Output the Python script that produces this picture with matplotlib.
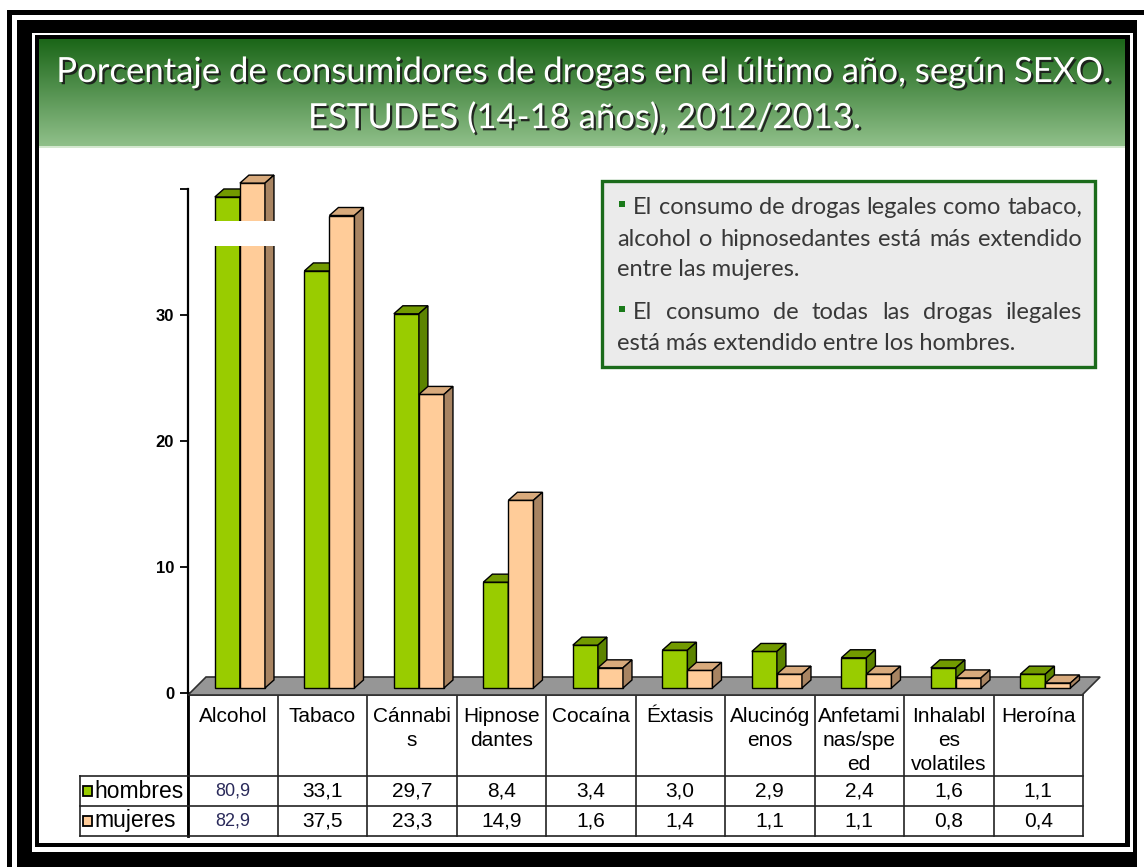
import numpy as np
import matplotlib
matplotlib.use("Agg")
import matplotlib.pyplot as plt
from matplotlib.patches import Rectangle, Polygon
import matplotlib.patheffects as pe

# ---------------- data ----------------
categories = ["Alcohol", "Tabaco", "Cánnabis", "Hipnosedantes", "Cocaína",
              "Éxtasis", "Alucinógenos", "Anfetaminas/speed",
              "Inhalables volatiles", "Heroína"]
category_labels = ["Alcohol", "Tabaco", "Cánnabi\ns", "Hipnose\ndantes", "Cocaína",
                   "Éxtasis", "Alucinóg\nenos", "Anfetami\nnas/spe\ned",
                   "Inhalabl\nes\nvolatiles", "Heroína"]
series_names = ["hombres", "mujeres"]
hombres = [80.9, 33.1, 29.7, 8.4, 3.4, 3.0, 2.9, 2.4, 1.6, 1.1]
mujeres = [82.9, 37.5, 23.3, 14.9, 1.6, 1.4, 1.1, 1.1, 0.8, 0.4]
y_ticks = [0, 10, 20, 30, 40]
y_tick_labels = ["0", "10", "20", "30", ""]

title_lines = ["Porcentaje de consumidores de drogas en el último año, según SEXO.",
               "ESTUDES (14-18 años), 2012/2013."]
note_paragraphs = [
    ["El consumo de drogas legales como tabaco,",
     "alcohol o hipnosedantes está más extendido",
     "entre las mujeres."],
    ["El consumo de todas las drogas ilegales",
     "está más extendido entre los hombres."],
]

# ---------------- style ----------------
W, H = 1144, 867
GREEN = ["#99cc00", "#729a00", "#5c8400"]     # front, top, side
PEACH = ["#ffcc99", "#d8aa7c", "#a88462"]
colors = [GREEN, PEACH]

fig = plt.figure(figsize=(W / 100, H / 100), dpi=100)
fig.patch.set_facecolor("white")

# canvas axes in pixel coords (y downwards)
cv = fig.add_axes([0, 0, 1, 1])
cv.set_xlim(0, W)
cv.set_ylim(H, 0)
cv.axis("off")


def rect(x0, y0, x1, y1, color="black", z=1, **kw):
    cv.add_patch(Rectangle((x0, y0), x1 - x0, y1 - y0, facecolor=color,
                           edgecolor="none", zorder=z, **kw))


# frames
rect(7, 10, W, 15)
rect(7, 10, 12, H)
rect(17, 20, 1137, 33)
rect(17, 20, 32, H)
rect(1133, 20, 1137, H)
rect(17, 852, 1137, H)
rect(35, 35, 1130, 39)
rect(35, 35, 39, 847)
rect(1125, 35, 1130, 847)
rect(35, 843, 1130, 847)

# header gradient
top_c = np.array([0x1b, 0x66, 0x18]) / 255
bot_c = np.array([0x90, 0xc0, 0x8a]) / 255
t = np.linspace(0, 1, 200)[:, None, None]
grad = top_c[None, None, :] * (1 - t) + bot_c[None, None, :] * t
cv.imshow(grad, extent=(39, 1125, 146, 39), origin="upper", aspect="auto", zorder=1)
rect(39, 146, 1125, 148, color="#d5e8d0", z=1)

title_fx = [pe.withSimplePatchShadow(offset=(1.6, -1.6), shadow_rgbFace="#1a1a1a", alpha=0.9)]
for i, line in enumerate(title_lines):
    cv.text(585, 72 + i * 46, line, ha="center", va="center", color="white",
            fontsize=25, family="Lato", zorder=3, path_effects=title_fx)

# ---------------- chart axes ----------------
PX_X0, PX_X1 = 188, 1083
PX_Y0 = 693          # value 0
PXU = 12.6           # pixels per unit
AX_TOP, AX_BOT = 175, 697
Y_MAX = 40
ax = fig.add_axes([PX_X0 / W, 1 - AX_BOT / H, (PX_X1 - PX_X0) / W, (AX_BOT - AX_TOP) / H])
ax.set_facecolor("none")
ax.set_xlim(0, len(categories))
ax.set_ylim((PX_Y0 - AX_BOT) / PXU, (PX_Y0 - AX_TOP) / PXU)
for s in ["top", "right", "bottom"]:
    ax.spines[s].set_visible(False)
ax.spines["left"].set_bounds(0, Y_MAX)
ax.spines["left"].set_linewidth(1.6)
ax.set_xticks([])
ax.set_yticks(y_ticks)
ax.set_yticklabels(y_tick_labels, fontsize=12, fontweight="bold", family="Liberation Sans")
ax.tick_params(axis="y", length=6, width=1.3, pad=4)

# floor
dxf, dyf = 18 / 89.5, 18 / PXU
floor = Polygon([(0, -2 / PXU), (len(categories) - 0.01, -2 / PXU),
                 (len(categories) - 0.01 + dxf, -2 / PXU + dyf), (dxf, -2 / PXU + dyf)],
                closed=True, facecolor="#969696", edgecolor="#303030", lw=1.2,
                clip_on=False, zorder=1)
ax.add_patch(floor)

# axis break mapping for values beyond the visible range
BREAK_LO = 36.0
BREAK_REF = 75.5
BREAK_SCALE = 0.55


def shown(v):
    return v if v <= Y_MAX else BREAK_LO + (v - BREAK_REF) * BREAK_SCALE


BASE = 5 / PXU
BW = 0.28
OFF = 0.30
DX, DY = 9 / 89.5, 8 / PXU
for i in range(len(categories)):
    for s, vals in enumerate([hombres, mujeres]):
        h = shown(vals[i])
        x0 = i + OFF + s * BW
        fc, tc, sc = colors[s]
        z = 2 + s * 0.1
        ax.add_patch(Rectangle((x0, BASE), BW, h, facecolor=fc, edgecolor="black",
                               lw=1.0, zorder=z, clip_on=False))
        ax.add_patch(Polygon([(x0, BASE + h), (x0 + BW, BASE + h),
                              (x0 + BW + DX, BASE + h + DY), (x0 + DX, BASE + h + DY)],
                             closed=True, facecolor=tc, edgecolor="black", lw=1.0,
                             zorder=z, clip_on=False))
        ax.add_patch(Polygon([(x0 + BW, BASE), (x0 + BW + DX, BASE + DY),
                              (x0 + BW + DX, BASE + h + DY), (x0 + BW, BASE + h)],
                             closed=True, facecolor=sc, edgecolor="black", lw=1.0,
                             zorder=z, clip_on=False))

# break band over the bars that exceed the scale
for i in range(len(categories)):
    if max(hombres[i], mujeres[i]) > Y_MAX:
        ax.add_patch(Rectangle((i + OFF - 0.05, 35.5), 2 * BW + DX + 0.1, 2.0,
                               facecolor="white", edgecolor="none", zorder=5, clip_on=False))

# ---------------- data table ----------------
cw = (PX_X1 - PX_X0) / len(categories)
T_TOP, R1, R2, R3 = 695, 776, 806, 836
LBL_X = 80
lc = "#222222"
cv.plot([PX_X0, PX_X1], [T_TOP, T_TOP], color=lc, lw=1.2, zorder=2)
for k in range(len(categories) + 1):
    x = PX_X0 + k * cw
    cv.plot([x, x], [T_TOP, R3], color=lc, lw=1.2, zorder=2)
cv.plot([PX_X0, PX_X0], [AX_BOT - 4, R3], color="black", lw=2, zorder=2)
for y in [R1, R2, R3]:
    cv.plot([LBL_X, PX_X1], [y, y], color=lc, lw=1.2, zorder=2)
cv.plot([LBL_X, LBL_X], [R1, R3], color=lc, lw=1.2, zorder=2)

tfont = dict(family="Liberation Sans", fontsize=15, color="black", zorder=3)
for k, lab in enumerate(category_labels):
    xc = PX_X0 + (k + 0.5) * cw
    for j, part in enumerate(lab.split("\n")):
        cv.text(xc, 716 + j * 24, part, ha="center", va="center", **tfont)

for r, (vals, yc) in enumerate([(hombres, (R1 + R2) / 2), (mujeres, (R2 + R3) / 2)]):
    for k, v in enumerate(vals):
        xc = PX_X0 + (k + 0.5) * cw
        txt = f"{v:.1f}".replace(".", ",")
        if v > Y_MAX:
            cv.text(xc, yc, txt, ha="center", va="center", family="Liberation Sans",
                    fontsize=13, color="#2a2a5a", zorder=3)
        else:
            cv.text(xc, yc, txt, ha="center", va="center", **tfont)
    # row label with legend key
    cv.add_patch(Rectangle((83, yc - 5), 9, 10, facecolor=colors[r][0], edgecolor="black",
                           lw=1.3, zorder=3))
    cv.text(94, yc, series_names[r], ha="left", va="center",
            family="Liberation Sans", fontsize=16.5, color="black", zorder=3)

# ---------------- annotation box ----------------
cv.add_patch(Rectangle((602, 181), 493, 186, facecolor="#ebebeb", edgecolor="#1b6b1b",
                       lw=2.4, zorder=2))
renderer = fig.canvas.get_renderer()
nfont = dict(family="Lato", fontsize=17, color="#383838", zorder=3)


def word_width(w):
    tt = cv.text(0, 0, w, **nfont)
    ww = tt.get_window_extent(renderer).width
    tt.remove()
    return ww


RIGHT = 1082
line_y = [[208, 240, 270], [313, 344]]
for p, para in enumerate(note_paragraphs):
    for li, line in enumerate(para):
        y = line_y[p][li] + 6
        x_start = 633 if li == 0 else 617
        if li == 0:
            cv.add_patch(Rectangle((619, y - 13), 5.5, 6, facecolor="#1a7a1a",
                                   edgecolor="none", zorder=3))
        words = line.split(" ")
        justify = li < len(para) - 1
        if justify:
            widths = [word_width(w) for w in words]
            gap = (RIGHT - x_start - sum(widths)) / (len(words) - 1)
            x = x_start
            for w, ww in zip(words, widths):
                cv.text(x, y, w, ha="left", va="baseline", **nfont)
                x += ww + gap
        else:
            cv.text(x_start, y, line, ha="left", va="baseline", **nfont)

fig.savefig("out.png", dpi=100, facecolor="white")
